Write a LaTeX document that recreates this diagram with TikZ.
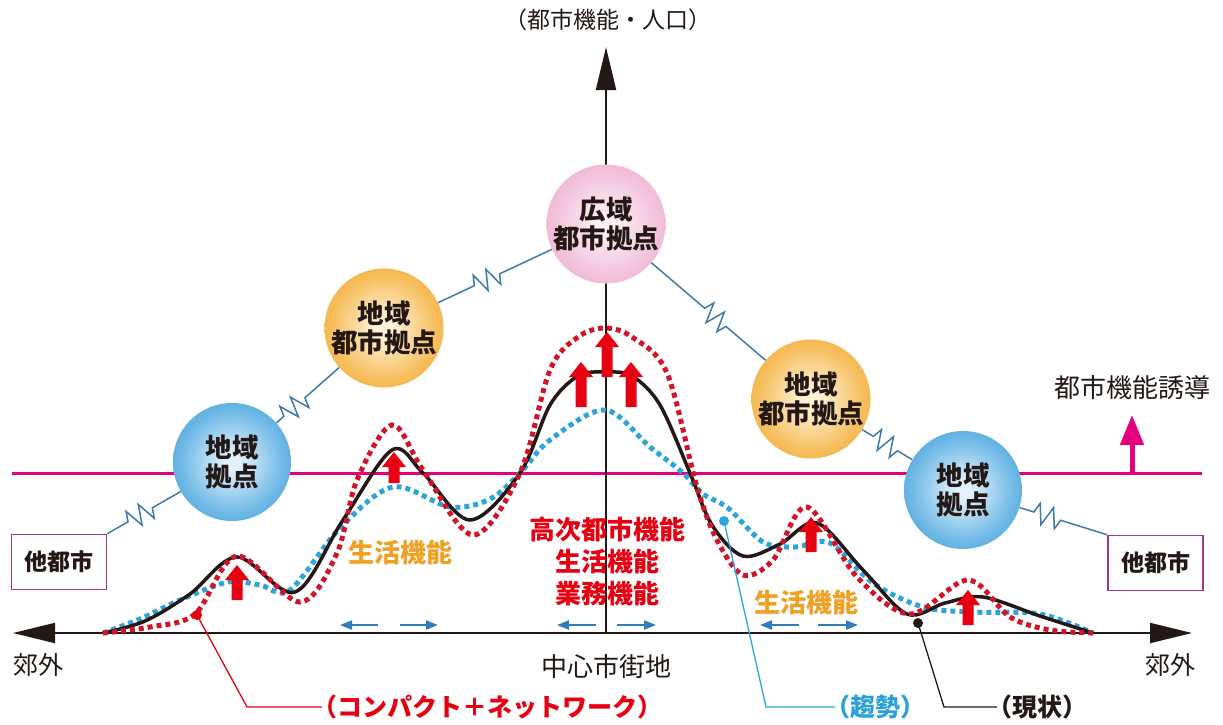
\documentclass[tikz,border=0pt]{standalone}
\usepackage{fontspec}
\setmainfont{Noto Sans CJK JP}
\usetikzlibrary{arrows.meta,decorations.pathmorphing,calc}

\definecolor{cAxis}{HTML}{231815}
\definecolor{cMag}{HTML}{E4007F}
\definecolor{cBox}{HTML}{A0368F}
\definecolor{cLink}{HTML}{3C7BAA}
\definecolor{cRed}{HTML}{E60012}
\definecolor{cRedDot}{HTML}{D2142A}
\definecolor{cBlueDot}{HTML}{2EA4DC}
\definecolor{cBlueTxt}{HTML}{2AA0D8}
\definecolor{cOrange}{HTML}{EFA125}
\definecolor{cSmallArr}{HTML}{2F7CBA}
\definecolor{cText}{HTML}{231815}
\definecolor{oIn}{HTML}{FFF3DA}
\definecolor{oMid}{HTML}{F6BE5C}
\definecolor{oOut}{HTML}{EF9B22}
\definecolor{bIn}{HTML}{E2F2FB}
\definecolor{bMid}{HTML}{6DB8E6}
\definecolor{bOut}{HTML}{258BCC}
\definecolor{pIn}{HTML}{FDF0F6}
\definecolor{pMid}{HTML}{F2C1DA}
\definecolor{pOut}{HTML}{E996C0}

\pgfdeclareradialshading{ballO}{\pgfpointorigin}{color(0bp)=(oIn); color(3bp)=(oIn); color(22bp)=(oMid); color(42bp)=(oOut); color(50bp)=(oOut)}
\pgfdeclareradialshading{ballB}{\pgfpointorigin}{color(0bp)=(bIn); color(3bp)=(bIn); color(22bp)=(bMid); color(42bp)=(bOut); color(50bp)=(bOut)}
\pgfdeclareradialshading{ballP}{\pgfpointorigin}{color(0bp)=(pIn); color(3bp)=(pIn); color(22bp)=(pMid); color(42bp)=(pOut); color(50bp)=(pOut)}

\begin{document}
\begin{tikzpicture}[x=1pt,y=-1pt,
  ball/.style={circle, minimum size=118pt, inner sep=0pt, shade, align=center,
    text=cText, font=\fontsize{26.5}{29}\selectfont\bfseries},
  citybox/.style={draw=cBox, line width=1.5pt, minimum width=95pt, minimum height=55pt,
    inner sep=0pt, fill=white, text=cText, font=\fontsize{23}{26}\selectfont\bfseries},
  plain/.style={inner sep=0pt, text=cText, font=\fontsize{25}{28}\selectfont},
  boldlbl/.style={inner sep=0pt, font=\fontsize{25}{28}\selectfont\bfseries},
  funclbl/.style={inner sep=0pt, align=center, font=\fontsize{26}{32}\selectfont\bfseries},
  spring/.style 2 args={draw=cLink, line width=1.5pt, decorate,
    decoration={zigzag, segment length=14pt, amplitude=10pt, pre length=#1, post length=#2}},
  smallarr/.style={draw=cSmallArr, line width=2pt, -{Triangle[length=12pt,width=9pt]}},
  dotline/.style={line width=5pt, dash pattern=on 5pt off 4pt},
  leader/.style={line width=1.3pt},
  pics/redup/.style={code={\fill[cRed] (-5.5,0) -- (-5.5,{-#1+15}) -- (-12,{-#1+15}) -- (0,{-#1})
      -- (12,{-#1+15}) -- (5.5,{-#1+15}) -- (5.5,0) -- cycle;}}
]
\useasboundingbox (0,0) rectangle (1223,724);

% guide line (magenta)
\coordinate (magL) at (12,473);
\coordinate (magR) at (1202,473);
\draw[cMag, line width=3pt] (magL) -- (magR);
\coordinate (magB) at (1132,473);
\coordinate (magT) at (1132,415);
\draw[cMag, line width=5pt, -{Triangle[length=30pt,width=23pt]}] (magB) -- (magT);
\node[plain, font=\fontsize{26}{28}\selectfont] (induce) at (1132,388) {都市機能誘導};

% axes
\coordinate (xl) at (13,633);
\coordinate (xr) at (1192,633);
\coordinate (org) at (606,633);
\coordinate (ytop) at (606,47);
\draw[cAxis, line width=2pt, {Triangle[length=42pt,width=20pt]}-{Triangle[length=42pt,width=20pt]}] (xl) -- (xr);
\draw[cAxis, line width=2pt, -{Triangle[length=43pt,width=20pt]}] (org) -- (ytop);
\node[plain, font=\fontsize{23}{26}\selectfont] (ylabel) at (608,20) {（都市機能・人口）};
\node[plain] (subL) at (38,665) {郊外};
\node[plain] (subR) at (1170,665) {郊外};
\node[plain, font=\fontsize{26}{28}\selectfont] (center) at (606,667) {中心市街地};

% circles
\node[ball, shading=ballP] (pink) at (606,224) {広域\\都市拠点};
\node[ball, shading=ballO] (orL) at (384,328) {地域\\都市拠点};
\node[ball, shading=ballB] (blL) at (232,462) {地域\\拠点};
\node[ball, shading=ballO] (orR) at (811,399) {地域\\都市拠点};
\node[ball, shading=ballB] (blR) at (963,490) {地域\\拠点};
\node[citybox] (boxL) at (59,562) {他都市};
\node[citybox] (boxR) at (1155.5,563) {他都市};

% spring links
\draw[spring={24pt}{28pt}] (boxL.north east) -- (blL);
\draw[spring={10pt}{42pt}] (blL) -- (orL);
\draw[spring={40pt}{56pt}] (orL) -- (pink);
\draw[spring={70pt}{46pt}] (pink) -- (orR);
\draw[spring={13pt}{17pt}] (orR) -- (blR);
\draw[spring={15pt}{48pt}] (blR) -- (boxR.north west);

% curves
\draw[cBlueDot, dotline] plot[smooth, tension=0.55] coordinates {
 (103,633) (140,619) (180,600) (228,582) (260,585) (290,590) (340,528) (393,487)
 (450,507) (490,499) (520,473) (550,440) (605,410) (650,447) (683,473) (703,494)
 (728,508) (763,542) (795,547) (830,543) (873,583) (923,607) (973,612) (1040,614) (1093,633)};
\draw[cAxis, line width=3.5pt] plot[smooth, tension=0.55] coordinates {
 (103,633) (145,621) (190,594) (237,557) (295,592) (343,520) (392,450) (423,473)
 (470,520) (520,473) (550,405) (578,376) (605,372) (632,376) (660,405) (690,473)
 (712,525) (743,556) (780,544) (817,523) (863,570) (907,614) (945,603) (983,597)
 (1040,616) (1093,633)};
\draw[cRedDot, dotline] plot[smooth, tension=0.55] coordinates {
 (103,633) (150,627) (195,614) (237,556) (300,602) (337,553) (357,480) (392,425)
 (423,470) (473,535) (520,473) (550,370) (578,337) (605,328) (632,337) (667,373)
 (697,487) (717,540) (743,575) (773,560) (807,507) (857,577) (910,614) (968,580)
 (1010,617) (1050,630) (1093,633)};

% red up arrows
\pic at (237,600) {redup=35};
\pic at (394,483) {redup=31};
\pic at (581,407) {redup=45};
\pic at (607,377) {redup=45};
\pic at (631,407) {redup=45};
\pic at (811,552) {redup=35};
\pic at (968,625) {redup=35};

% small blue arrows
\foreach \n/\xa/\xb/\xc/\xd in {L/378/340/400/438, C/596/557/617/656, R/799/760/818/858} {
  \coordinate (s\n1) at (\xa,625); \coordinate (e\n1) at (\xb,625);
  \coordinate (s\n2) at (\xc,625); \coordinate (e\n2) at (\xd,625);
  \draw[smallarr] (s\n1) -- (e\n1);
  \draw[smallarr] (s\n2) -- (e\n2);
}

% function labels
\node[funclbl, text=cOrange] (lifeL) at (400,553) {生活機能};
\node[funclbl, text=cRed] (cfunc) at (607,562) {高次都市機能\\生活機能\\業務機能};
\node[funclbl, text=cOrange] (lifeR) at (806,603) {生活機能};

% legend labels
\node[boldlbl, text=cRed] (lcomp) at (487,707) {（コンパクト＋ネットワーク）};
\node[boldlbl, text=cBlueTxt] (ltrend) at (875,707) {（趨勢）};
\node[boldlbl, text=cText] (lnow) at (1037,707) {（現状）};

\coordinate (rdot) at (197,615);
\coordinate (rbend) at (247,707);
\fill[cRed] (rdot) circle (5pt);
\draw[cRed, leader] (rdot) -- (rbend) -- ([xshift=10pt]lcomp.west);

\coordinate (bdot) at (724,521);
\coordinate (bbend) at (766,707);
\fill[cBlueDot] (bdot) circle (5pt);
\draw[cBlueDot, leader] (bdot) -- (bbend) -- ([xshift=10pt]ltrend.west);

\coordinate (kdot) at (918,623);
\coordinate (kbend) at (944,707);
\fill[cAxis] (kdot) circle (5pt);
\draw[cAxis, leader] (kdot) -- (kbend) -- ([xshift=10pt]lnow.west);
\end{tikzpicture}
\end{document}
